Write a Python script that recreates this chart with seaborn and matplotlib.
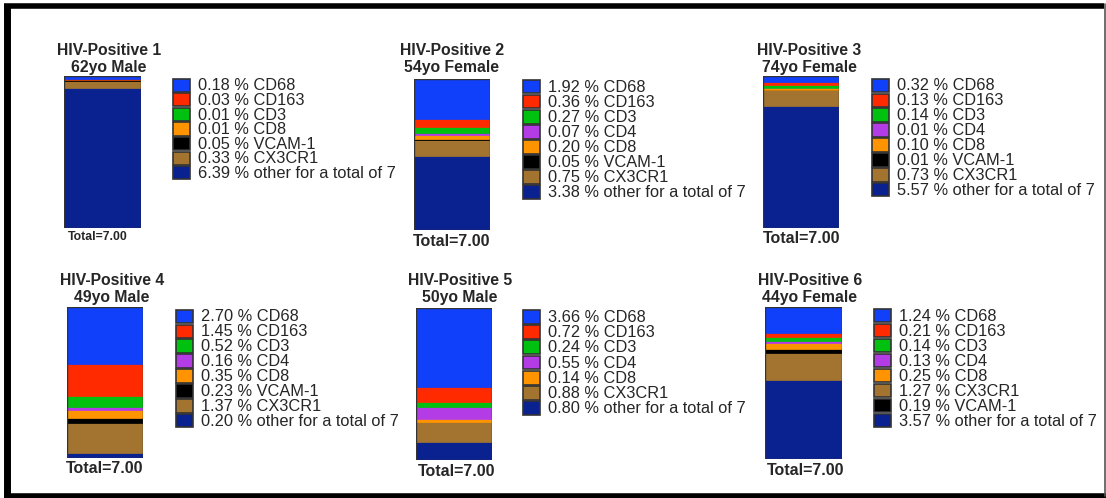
import matplotlib
matplotlib.use("Agg")
import matplotlib.pyplot as plt
import seaborn as sns
from matplotlib.patches import Rectangle

# Panel titles
titles = ["HIV-Positive 1", "HIV-Positive 2", "HIV-Positive 3",
          "HIV-Positive 4", "HIV-Positive 5", "HIV-Positive 6"]
subtitles = ["62yo Male", "54yo Female", "74yo Female",
             "49yo Male", "50yo Male", "44yo Female"]
total_size = 7

# Marker percentages per sample (legend order as in the figure)
markers_1 = ["CD68", "CD163", "CD3", "CD8", "VCAM-1", "CX3CR1", "other"]
values_1 = [0.18, 0.03, 0.01, 0.01, 0.05, 0.33, 6.39]

markers_2 = ["CD68", "CD163", "CD3", "CD4", "CD8", "VCAM-1", "CX3CR1", "other"]
values_2 = [1.92, 0.36, 0.27, 0.07, 0.20, 0.05, 0.75, 3.38]

markers_3 = ["CD68", "CD163", "CD3", "CD4", "CD8", "VCAM-1", "CX3CR1", "other"]
values_3 = [0.32, 0.13, 0.14, 0.01, 0.10, 0.01, 0.73, 5.57]

markers_4 = ["CD68", "CD163", "CD3", "CD4", "CD8", "VCAM-1", "CX3CR1", "other"]
values_4 = [2.70, 1.45, 0.52, 0.16, 0.35, 0.23, 1.37, 0.20]

markers_5 = ["CD68", "CD163", "CD3", "CD4", "CD8", "CX3CR1", "other"]
values_5 = [3.66, 0.72, 0.24, 0.55, 0.14, 0.88, 0.80]

markers_6 = ["CD68", "CD163", "CD3", "CD4", "CD8", "CX3CR1", "VCAM-1", "other"]
values_6 = [1.24, 0.21, 0.14, 0.13, 0.25, 1.27, 0.19, 3.57]

# stacking order in the bar, top to bottom
stack_order = ["CD68", "CD163", "CD3", "CD4", "CD8", "VCAM-1", "CX3CR1", "other"]
colors = {
    "CD68": "#1040fa",
    "CD163": "#ff2a00",
    "CD3": "#00c010",
    "CD4": "#b43ce6",
    "CD8": "#ff9400",
    "VCAM-1": "#000000",
    "CX3CR1": "#a37430",
    "other": "#0a2190",
}

panels = [
    (markers_1, values_1), (markers_2, values_2), (markers_3, values_3),
    (markers_4, values_4), (markers_5, values_5), (markers_6, values_6),
]

# layout in pixels: bar (left, top, width, height), legend (x, top, pitch),
# title center x, total label (x, y, fontsize)
bar_box = [(64, 76, 77, 152), (414, 79, 76, 151), (763, 76, 76, 152),
           (67, 307, 76, 151), (416, 308, 76, 152), (765, 307, 77, 152)]
leg_box = [(173, 78, 14.6), (523, 79, 15.1), (872, 78, 14.9),
           (176, 309, 14.9), (523, 309, 15.3), (874, 308, 15.0)]
title_x = [109, 452, 809, 112, 460, 810]
title_y = [50, 50, 50, 280, 280, 280]
total_pos = [(98, 237, 8.8), (452, 241, 11.5), (802, 238, 11.5),
             (105, 468, 11.5), (457, 471, 11.5), (806, 470, 11.5)]

W, H = 1106, 498

sns.set_theme(style="white")
plt.rcParams["font.family"] = ["Liberation Sans", "DejaVu Sans"]

fig = plt.figure(figsize=(W / 100, H / 100), dpi=100)
fig.patch.set_facecolor("white")

# overlay axes in pixel coordinates for frame, legends and text
bg = fig.add_axes([0, 0, 1, 1])
bg.set_xlim(0, W)
bg.set_ylim(H, 0)
bg.axis("off")

# frame
bg.plot([7, 7], [5, 495], color="black", lw=5, solid_capstyle="butt")
bg.plot([4, 1104], [5.5, 5.5], color="black", lw=4, solid_capstyle="butt")
bg.plot([4, 1106], [495.5, 495.5], color="black", lw=4, solid_capstyle="butt")
bg.plot([1104.5, 1104.5], [4, 496], color="#555555", lw=1.2)

for i, (markers, values) in enumerate(panels):
    lookup = dict(zip(markers, values))
    present = [m for m in stack_order if m in lookup]
    total = sum(lookup[m] for m in present)

    left, top, bw, bh = bar_box[i]
    ax = fig.add_axes([left / W, 1 - (top + bh) / H, bw / W, bh / H])
    # stacked bar drawn as overlapping cumulative bars, tallest first
    for j, m in enumerate(present):
        height = sum(lookup[k] for k in present[j:])
        sns.barplot(x=[0], y=[height], color=colors[m], width=1, ax=ax,
                    saturation=1, edgecolor=colors[m], linewidth=0.2)
    # outline around the whole bar
    sns.barplot(x=[0], y=[total], width=1, ax=ax, fill=False,
                edgecolor="#333333", linewidth=1.0)
    ax.set_xlim(-0.5, 0.5)
    ax.set_ylim(0, total)
    ax.axis("off")

    # titles
    bg.text(title_x[i], title_y[i], titles[i], ha="center", va="center",
            fontsize=11.3, fontweight="bold")
    bg.text(title_x[i], title_y[i] + 17, subtitles[i], ha="center", va="center",
            fontsize=11.3, fontweight="bold")

    # total label
    tx, ty, tfs = total_pos[i]
    bg.text(tx, ty, f"Total={total_size:.2f}", ha="center", va="center",
            fontsize=tfs, fontweight="bold")

    # legend
    lx, ly, pitch = leg_box[i]
    for r, (m, v) in enumerate(zip(markers, values)):
        y0 = ly + r * pitch
        bg.add_patch(Rectangle((lx, y0 + 0.6), 17, pitch - 1.4,
                               facecolor=colors[m], edgecolor="#333333", lw=1.2))
        label = m if m != "other" else "other for a total of 7"
        bg.text(lx + 25, y0 + pitch / 2 + 0.5, f"{v:.2f} % {label}",
                ha="left", va="center", fontsize=11.8)

fig.savefig("out.png", dpi=100)
